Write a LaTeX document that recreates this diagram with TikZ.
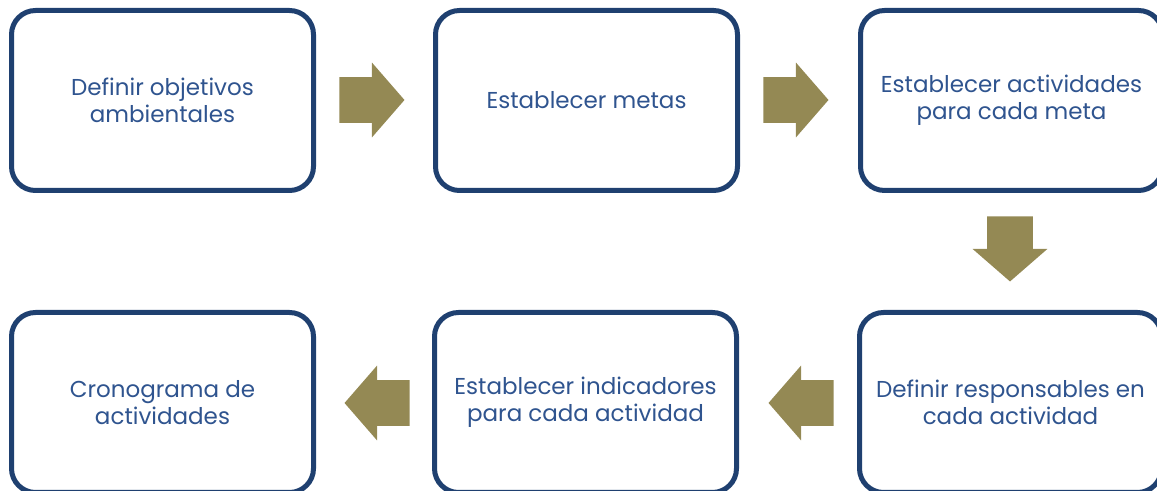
\documentclass[tikz,border=0pt]{standalone}
\usepackage{fontspec}
\setmainfont{Poppins}
\usetikzlibrary{shapes.arrows}

\definecolor{boxblue}{RGB}{31,64,112}
\definecolor{textblue}{RGB}{47,84,143}
\definecolor{arrowolive}{RGB}{148,137,84}

\begin{document}
\begin{tikzpicture}[x=0.5pt, y=0.5pt,
  stage/.style={draw=boxblue, line width=2.5pt, rounded corners=12pt, fill=white,
    minimum width=151pt, minimum height=90pt, align=center, text=textblue,
    font=\fontsize{11.5}{13.5}\selectfont},
  flow/.style={single arrow, fill=arrowolive, inner xsep=0pt, inner ysep=11.25pt,
    minimum width=37pt, minimum height=32.5pt, single arrow head extend=7.25pt,
    single arrow tip angle=98, anchor=tip}]

\useasboundingbox (0, 0) rectangle (1157, 491);

\node[stage] (1) at (162.5, 390.5) {Definir objetivos\\ambientales};
\node[stage] (2) at (586.5, 390.5) {Establecer metas};
\node[stage] (3) at (1011.5, 390.5) {Establecer actividades\\para cada meta};
\node[stage] (4) at (1010.5, 88.5) {Definir responsables en\\cada actividad};
\node[stage] (5) at (585.5, 88.5) {Establecer indicadores\\para cada actividad};
\node[stage] (6) at (162.5, 88.5) {Cronograma de\\actividades};

\node[flow] (a1) at (405, 391) {};
\node[flow] (a2) at (829, 391) {};
\node[flow, rotate=-90] (a3) at (1010, 209) {};
\node[flow, rotate=180] (a4) at (768, 88) {};
\node[flow, rotate=180] (a5) at (344, 88) {};

\end{tikzpicture}
\end{document}
